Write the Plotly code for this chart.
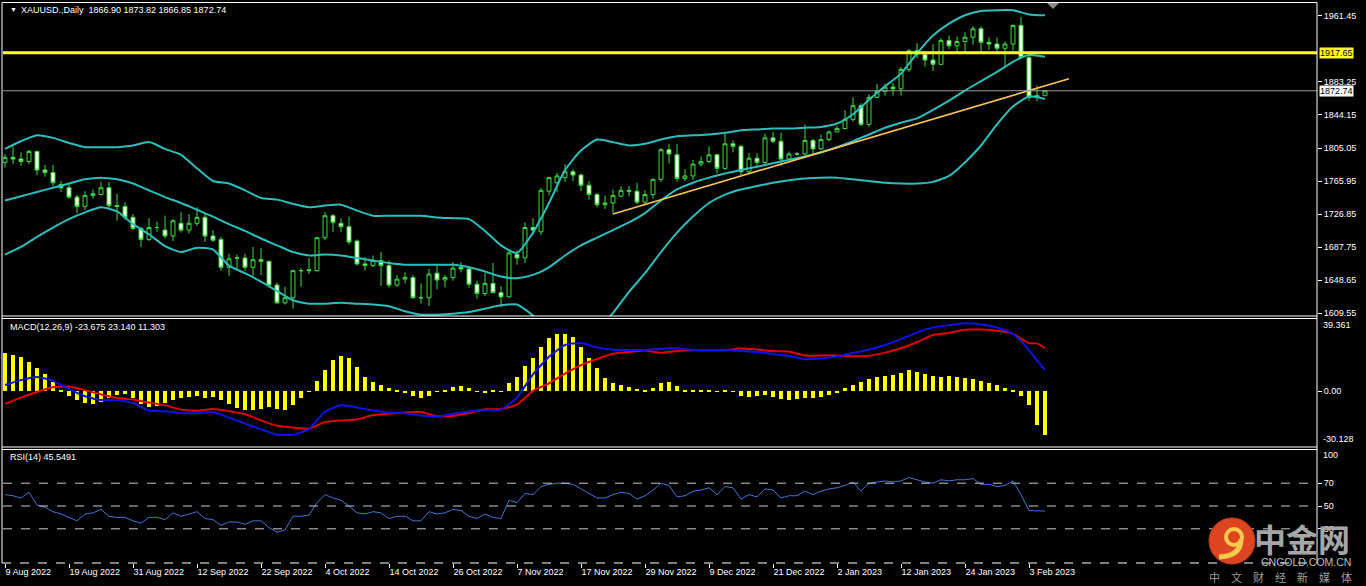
import plotly.graph_objects as go

W, H = 1366, 586
PL, PR, PT, PB = 3, 1317, 3, 563


def px(x):
    return (x - PL) / (PR - PL)


def py(y):
    return (PB - y) / (PB - PT)


# ---------------- data ----------------
tick_labels = ["9 Aug 2022", "19 Aug 2022", "31 Aug 2022", "12 Sep 2022", "22 Sep 2022",
               "4 Oct 2022", "14 Oct 2022", "26 Oct 2022", "7 Nov 2022", "17 Nov 2022",
               "29 Nov 2022", "9 Dec 2022", "21 Dec 2022", "2 Jan 2023", "12 Jan 2023",
               "24 Jan 2023", "3 Feb 2023"]
tick_bars = [0, 8, 16, 24, 32, 40, 48, 56, 64, 72, 80, 88, 96, 104, 112, 120, 128]

opens = [1788, 1794, 1792, 1789, 1801, 1779, 1776, 1762, 1758, 1747,
         1736, 1749, 1750, 1758, 1737, 1736, 1723, 1710, 1697, 1711,
         1708, 1701, 1716, 1708, 1716, 1723, 1701, 1697, 1664, 1675,
         1675, 1664, 1673, 1671, 1643, 1622, 1628, 1660, 1661, 1660,
         1699, 1725, 1716, 1712, 1695, 1668, 1666, 1672, 1666, 1643,
         1650, 1652, 1628, 1628, 1657, 1649, 1652, 1664, 1662, 1644,
         1633, 1645, 1634, 1629, 1679, 1675, 1711, 1706, 1754, 1764,
         1770, 1777, 1773, 1761, 1750, 1738, 1740, 1748, 1755, 1754,
         1741, 1750, 1768, 1803, 1797, 1769, 1772, 1786, 1789, 1797,
         1781, 1810, 1807, 1777, 1793, 1788, 1817, 1813, 1792, 1798,
         1798, 1814, 1804, 1815, 1824, 1828, 1839, 1855, 1833, 1865,
         1872, 1877, 1875, 1898, 1920, 1916, 1909, 1904, 1932, 1926,
         1931, 1936, 1946, 1930, 1928, 1923, 1928, 1950, 1912, 1865,
         1866.90]
highs = [1798, 1807, 1800, 1803, 1802, 1785, 1785, 1766, 1762, 1750,
         1754, 1756, 1765, 1765, 1751, 1741, 1727, 1712, 1722, 1718,
         1725, 1721, 1729, 1727, 1735, 1728, 1708, 1700, 1680, 1679,
         1680, 1688, 1687, 1672, 1646, 1641, 1661, 1663, 1675, 1700,
         1729, 1727, 1722, 1724, 1697, 1676, 1678, 1682, 1672, 1655,
         1658, 1655, 1645, 1662, 1668, 1655, 1670, 1670, 1665, 1648,
         1657, 1669, 1642, 1683, 1684, 1717, 1722, 1758, 1770, 1776,
         1786, 1780, 1775, 1766, 1752, 1749, 1756, 1760, 1760, 1764,
         1755, 1769, 1805, 1810, 1810, 1780, 1791, 1795, 1807, 1798,
         1824, 1814, 1809, 1799, 1799, 1822, 1824, 1823, 1801, 1800,
         1833, 1816, 1821, 1826, 1831, 1850, 1865, 1858, 1869, 1881,
         1881, 1882, 1901, 1922, 1929, 1920, 1928, 1935, 1938, 1937,
         1942, 1949, 1949, 1936, 1936, 1931, 1951, 1960, 1918, 1879,
         1873.82]
lows = [1782, 1786, 1784, 1786, 1773, 1771, 1760, 1753, 1745, 1728,
        1732, 1745, 1749, 1734, 1719, 1720, 1708, 1688, 1695, 1706,
        1698, 1695, 1705, 1704, 1713, 1694, 1694, 1660, 1654, 1662,
        1660, 1654, 1655, 1640, 1621, 1620, 1615, 1641, 1656, 1659,
        1696, 1706, 1706, 1691, 1666, 1660, 1664, 1642, 1640, 1641,
        1645, 1627, 1621, 1618, 1638, 1640, 1648, 1658, 1640, 1627,
        1630, 1634, 1617, 1628, 1667, 1669, 1702, 1702, 1749, 1753,
        1765, 1766, 1754, 1744, 1735, 1733, 1727, 1747, 1748, 1739,
        1737, 1745, 1765, 1787, 1765, 1766, 1767, 1783, 1787, 1775,
        1779, 1800, 1773, 1775, 1784, 1785, 1811, 1784, 1791, 1796,
        1796, 1797, 1803, 1813, 1824, 1827, 1836, 1831, 1830, 1864,
        1867, 1867, 1867, 1895, 1911, 1901, 1896, 1903, 1922, 1917,
        1917, 1927, 1918, 1921, 1916, 1900, 1920, 1911, 1861, 1860,
        1866.85]
closes = [1794, 1792, 1789, 1801, 1779, 1776, 1764, 1758, 1747, 1736,
          1749, 1751, 1758, 1737, 1736, 1723, 1710, 1697, 1711, 1711,
          1701, 1719, 1708, 1716, 1723, 1701, 1696, 1664, 1674, 1675,
          1664, 1673, 1671, 1643, 1622, 1628, 1660, 1660, 1660, 1699,
          1725, 1717, 1712, 1694, 1668, 1666, 1672, 1666, 1643, 1650,
          1652, 1628, 1628, 1656, 1649, 1652, 1663, 1662, 1644, 1633,
          1645, 1634, 1629, 1681, 1675, 1711, 1708, 1755, 1770, 1772,
          1777, 1773, 1761, 1750, 1738, 1740, 1749, 1755, 1754, 1741,
          1750, 1768, 1803, 1798, 1769, 1772, 1786, 1789, 1797, 1781,
          1810, 1807, 1777, 1793, 1788, 1817, 1813, 1792, 1798, 1798,
          1814, 1804, 1815, 1824, 1828, 1839, 1855, 1833, 1865, 1872,
          1877, 1875, 1898, 1920, 1916, 1909, 1904, 1932, 1926, 1931,
          1936, 1946, 1930, 1928, 1923, 1928, 1950, 1912, 1865, 1867,
          1872.74]

# Bollinger bands read at every second bar
band_bars = list(range(0, 131, 2))
bb_upper = [1804, 1813, 1820, 1817, 1811, 1806, 1806, 1806, 1808, 1812,
            1804, 1797, 1781, 1766, 1763, 1755, 1746, 1744, 1739, 1735,
            1737, 1738, 1731, 1725, 1725, 1725, 1725, 1723, 1722, 1721,
            1707, 1690, 1681, 1705, 1740, 1779, 1802, 1815, 1812, 1808,
            1810, 1815, 1819, 1820, 1821, 1823, 1826, 1827, 1828, 1828,
            1829, 1830, 1834, 1845, 1862, 1878, 1893, 1917, 1938, 1952,
            1962, 1967, 1968, 1968, 1963, 1962]
bb_middle = [1743, 1748, 1753, 1758, 1763, 1768, 1770, 1768, 1763, 1755,
             1747, 1740, 1732, 1724, 1715, 1707, 1698, 1690, 1682, 1678,
             1679, 1678, 1675, 1672, 1669, 1667, 1667, 1667, 1667, 1664,
             1659, 1653, 1651, 1655, 1664, 1678, 1690, 1699, 1708, 1717,
             1728, 1743, 1756, 1764, 1770, 1775, 1779, 1783, 1787, 1791,
             1795, 1800, 1806, 1813, 1821, 1829, 1835, 1840, 1850, 1861,
             1873, 1884, 1895, 1907, 1915, 1913]
bb_lower = [1679, 1688, 1700, 1711, 1721, 1729, 1735, 1730, 1715, 1703,
            1689, 1682, 1687, 1685, 1666, 1657, 1647, 1636, 1625, 1621,
            1621, 1622, 1621, 1620, 1618, 1612, 1608, 1608, 1609, 1611,
            1615, 1619, 1620, 1607, 1590, 1580, 1578, 1590, 1610, 1635,
            1657, 1682, 1705, 1724, 1740, 1750, 1756, 1760, 1764, 1767,
            1769, 1770, 1770, 1768, 1766, 1764, 1763, 1763, 1765, 1772,
            1788, 1808, 1833, 1854, 1866, 1863]

# MACD(12,26,9): histogram per bar, main (blue) and signal (red) lines
macd_hist = [20.5, 19.5, 18.4, 15.7, 12.4, 9.2, 4.9, 0.6, -2.6, -4.8,
             -6.5, -7.0, -5.9, -3.7, -2.1, -1.6, -3.7, -7.0, -8.6, -8.0,
             -6.5, -4.8, -3.7, -3.2, -2.6, -3.7, -3.2, -4.8, -7.0, -9.1,
             -10.2, -10.2, -9.6, -8.6, -9.6, -10.2, -7.5, -3.7, -0.5, 5.4,
             11.4, 16.8, 18.9, 17.8, 13.0, 7.6, 4.9, 3.3, 1.7, 0.1,
             -1.0, -2.6, -3.7, -2.6, -0.5, 0.6, 2.2, 2.7, 1.7, -0.5,
             -1.0, 0.1, -0.5, 4.4, 7.6, 13.5, 17.8, 23.7, 28.6, 30.8,
             30.8, 29.1, 23.7, 17.8, 12.4, 7.1, 4.4, 3.3, 2.2, 1.1,
             0.6, 1.7, 4.4, 4.9, 2.7, 0.6, 0.1, 0.6, 0.1, -0.5,
             0.1, -0.5, -2.6, -3.2, -2.6, -2.1, -3.2, -4.3, -4.8, -4.3,
             -3.7, -3.7, -3.2, -2.1, -1.0, 1.7, 3.3, 4.9, 6.5, 7.6,
             8.1, 8.7, 9.8, 11.4, 10.3, 9.2, 8.1, 7.6, 8.1, 7.6,
             7.1, 6.5, 5.4, 4.4, 3.3, 1.7, 0.1, -2.6, -7.5, -18.3,
             -23.675]
macd_bars = [0, 2, 4, 6, 8, 10, 12, 14, 16, 18, 20, 22, 24, 26, 28, 30, 32, 34, 36, 38,
             40, 42, 44, 46, 48, 50, 52, 54, 56, 58, 60, 62, 64, 66, 68, 70, 72, 74, 76, 78,
             80, 82, 84, 86, 88, 90, 92, 94, 96, 98, 100, 102, 104, 106, 108, 110, 112, 114,
             116, 118, 120, 122, 124, 126, 127, 128, 129, 130]
macd_main = [3.3, 5.9, 7.6, 5.5, 1.0, -2.8, -4.8, -4.8, -6.5, -10.5,
             -10.9, -11.9, -11.9, -11.3, -14.3, -17.5, -20.6, -23.5, -23.5, -20.5,
             -11.0, -7.6, -8.8, -10.5, -11.5, -12.0, -13.2, -13.8, -12.2, -11.0,
             -10.3, -10.0, -3.5, 9.0, 18.5, 24.8, 25.9, 23.5, 22.3, 22.1,
             22.1, 22.8, 23.0, 22.1, 22.1, 22.1, 21.6, 21.1, 19.9, 18.9,
             17.2, 17.6, 18.6, 20.5, 22.3, 24.8, 28.0, 31.5, 34.3, 35.5,
             36.5, 35.8, 34.2, 30.8, 27.0, 22.0, 16.5, 11.303]
macd_signal = [-6.9, -3.5, -0.5, 2.0, 2.3, 0.5, -1.8, -3.7, -4.6, -6.2,
               -7.7, -10.0, -10.6, -9.7, -10.8, -12.4, -15.8, -18.7, -19.7, -20.3,
               -16.7, -15.8, -15.3, -12.9, -12.3, -11.5, -11.3, -13.5, -13.3, -11.8,
               -9.8, -9.8, -7.3, 0.1, 4.2, 9.4, 14.0, 17.3, 20.1, 21.0,
               21.8, 20.6, 21.6, 22.0, 22.0, 22.0, 22.9, 22.4, 21.5, 21.3,
               19.1, 19.2, 19.1, 18.8, 19.0, 20.7, 23.1, 26.3, 30.2, 31.4,
               33.0, 33.1, 32.5, 30.8, 28.3, 25.8, 25.7, 23.140]

# RSI(14) per bar
rsi = [60, 59, 57, 62, 51, 49, 45, 43, 40, 37,
       43, 44, 47, 41, 40, 40, 37, 35, 40, 40,
       38, 44, 41, 43, 45, 39, 38, 33, 36, 36,
       34, 37, 37, 31, 27, 29, 41, 41, 42, 53,
       60, 57, 55, 50, 44, 43, 45, 44, 39, 41,
       41, 37, 37, 45, 43, 44, 47, 46, 41, 39,
       43, 40, 39, 55, 53, 61, 60, 67, 69, 70,
       70, 69, 65, 61, 57, 57, 60, 62, 61, 56,
       59, 64, 70, 68, 58, 59, 63, 64, 66, 60,
       67, 66, 56, 60, 58, 65, 64, 57, 59, 59,
       63, 60, 63, 65, 66, 68, 71, 63, 70, 71,
       72, 71, 72, 75, 73, 71, 70, 73, 72, 73,
       73, 74, 69, 69, 67, 68, 72, 60, 46, 46,
       45.5491]

level_price = 1917.65
last_price = 1872.74
trend_bars = [76, 133]
trend_prices = [1727, 1887]

price_ticks = [1961.45, 1883.25, 1844.15, 1805.05, 1765.95, 1726.85, 1687.75, 1648.65, 1609.55]
rsi_levels = [70, 50, 30]

# ---------------- figure ----------------
bars = list(range(len(closes)))
FONT = "Liberation Sans, Arial, sans-serif"
WHITE = "#FFFFFF"
BAND = "#2DBDBD"

fig = go.Figure()

for vals in (bb_upper, bb_middle, bb_lower):
    fig.add_trace(go.Scatter(x=band_bars, y=vals, mode="lines", xaxis="x", yaxis="y",
                             line=dict(color=BAND, width=2, shape="spline", smoothing=0.6),
                             hoverinfo="skip", showlegend=False))

fig.add_trace(go.Scatter(x=trend_bars, y=trend_prices, mode="lines", xaxis="x", yaxis="y",
                         line=dict(color="#F5C451", width=1.6), showlegend=False))

fig.add_trace(go.Candlestick(x=bars, open=opens, high=highs, low=lows, close=closes,
                             xaxis="x", yaxis="y", whiskerwidth=0,
                             increasing=dict(line=dict(color="#3EDC3E", width=1), fillcolor="#000000"),
                             decreasing=dict(line=dict(color="#3EDC3E", width=1), fillcolor="#F0FFE8"),
                             showlegend=False))

fig.add_trace(go.Bar(x=bars, y=macd_hist, xaxis="x2", yaxis="y2", width=0.62,
                     marker=dict(color="#FFFF00", line=dict(width=0)), showlegend=False))
fig.add_trace(go.Scatter(x=macd_bars, y=macd_signal, mode="lines", xaxis="x2", yaxis="y2",
                         line=dict(color="#E00000", width=2, shape="spline", smoothing=0.5),
                         showlegend=False))
fig.add_trace(go.Scatter(x=macd_bars, y=macd_main, mode="lines", xaxis="x2", yaxis="y2",
                         line=dict(color="#0A14E6", width=2, shape="spline", smoothing=0.5),
                         showlegend=False))

fig.add_trace(go.Scatter(x=bars, y=rsi, mode="lines", xaxis="x3", yaxis="y3",
                         line=dict(color="#3F74D6", width=1), showlegend=False))

XR = [-0.25, 164]
common_x = dict(range=XR, showgrid=False, zeroline=False, showline=False, fixedrange=True)
fig.update_layout(
    width=W, height=H,
    margin=dict(l=PL, r=W - PR, t=PT, b=H - PB),
    paper_bgcolor="#000000", plot_bgcolor="#000000",
    font=dict(family=FONT, size=9, color=WHITE),
    showlegend=False, bargap=0,
    xaxis=dict(common_x, domain=[0, 1], anchor="y", showticklabels=False, ticks="",
               rangeslider=dict(visible=False)),
    xaxis2=dict(common_x, domain=[0, 1], anchor="y2", showticklabels=False, ticks=""),
    xaxis3=dict(common_x, domain=[0, 1], anchor="y3", tickmode="array",
                tickvals=tick_bars, ticktext=tick_labels, ticks="outside", ticklen=4,
                tickcolor=WHITE, tickfont=dict(color=WHITE, size=9, family=FONT),
                ticklabelposition="outside right"),
    yaxis=dict(domain=[py(316), py(3)], range=[1606.4, 1976.5], side="right", anchor="x",
               showgrid=False, zeroline=False, tickmode="array", tickvals=price_ticks,
               ticktext=["%.2f" % v for v in price_ticks], ticks="outside", ticklen=4,
               tickcolor=WHITE, tickfont=dict(color=WHITE, size=9, family=FONT), fixedrange=True),
    yaxis2=dict(domain=[py(447), py(318)], range=[-30.128, 39.361], side="right", anchor="x2",
                showgrid=False, zeroline=False, tickmode="array", tickvals=[0], ticktext=["0.00"],
                ticks="outside", ticklen=4, tickcolor=WHITE,
                tickfont=dict(color=WHITE, size=9, family=FONT), fixedrange=True),
    yaxis3=dict(domain=[py(563), py(449)], range=[0, 100], side="right", anchor="x3",
                showgrid=False, zeroline=False, tickmode="array", tickvals=rsi_levels,
                ticktext=[str(v) for v in rsi_levels], ticks="outside", ticklen=4, tickcolor=WHITE,
                tickfont=dict(color=WHITE, size=9, family=FONT), fixedrange=True),
)

shapes = []
# horizontal price lines
shapes.append(dict(type="line", xref="x domain", yref="y", x0=0, x1=1, y0=level_price, y1=level_price,
                   line=dict(color="#FFFF1E", width=3)))
shapes.append(dict(type="line", xref="x domain", yref="y", x0=0, x1=1, y0=last_price, y1=last_price,
                   line=dict(color="#9A9A9A", width=1)))
for lv in rsi_levels:
    shapes.append(dict(type="line", xref="x3 domain", yref="y3", x0=0, x1=1, y0=lv, y1=lv,
                       line=dict(color="#C8C8C8", width=1, dash="dash")))


# window frames
def hline(y, dash=None):
    d = dict(type="line", xref="paper", yref="paper", x0=px(2), x1=px(1317), y0=py(y), y1=py(y),
             line=dict(color=WHITE, width=1))
    if dash:
        d["line"]["dash"] = dash
    return d


def vline(x, y0, y1):
    return dict(type="line", xref="paper", yref="paper", x0=px(x), x1=px(x), y0=py(y0), y1=py(y1),
                line=dict(color=WHITE, width=1))


for y in (2.5, 316, 318.5, 447, 449.5):
    shapes.append(hline(y))
shapes.append(hline(563, dash="dash"))
shapes.append(vline(2, 2.5, 563))
shapes.append(vline(1317, 2.5, 563))

# chart shift marker
shapes.append(dict(type="path", xref="paper", yref="paper",
                   path="M %f,%f L %f,%f L %f,%f Z" % (px(1047), py(3), px(1059), py(3), px(1053), py(9)),
                   fillcolor="#8C8C8C", line=dict(width=0)))

# watermark logo
shapes.append(dict(type="circle", xref="paper", yref="paper", x0=px(1209), x1=px(1255),
                   y0=py(564), y1=py(518), fillcolor="#DD4420", line=dict(color="#C83A18", width=1)))
shapes.append(dict(type="circle", xref="paper", yref="paper", x0=px(1226), x1=px(1242),
                   y0=py(545), y1=py(529), fillcolor="rgba(0,0,0,0)", line=dict(color="#F7C94C", width=4)))
shapes.append(dict(type="path", xref="paper", yref="paper",
                   path="M %f,%f Q %f,%f %f,%f" % (px(1241), py(539), px(1241), py(556), px(1219), py(557)),
                   line=dict(color="#F7C94C", width=5)))
fig.update_layout(shapes=shapes)

ann = []


def text(x, y, s, size=9, color=WHITE, xanchor="left", bg=None, family=FONT, **kw):
    d = dict(xref="paper", yref="paper", x=px(x), y=py(y), text=s, showarrow=False,
             xanchor=xanchor, yanchor="middle", font=dict(size=size, color=color, family=family))
    if bg:
        d.update(bgcolor=bg, borderpad=0)
    d.update(kw)
    return d


ann.append(text(8, 10, "▼", size=7))
ann.append(text(19, 10, "XAUUSD.,Daily  1866.90 1873.82 1866.85 1872.74"))
ann.append(text(8, 327, "MACD(12,26,9) -23.675 23.140 11.303"))
ann.append(text(8, 457, "RSI(14) 45.5491"))
ann.append(text(1319, 52.5, "%.2f" % level_price, color="#000000", bg="#FFFF1E"))
ann.append(text(1319, 90.7, "%.2f" % last_price, color="#000000", bg="#FFFFFF"))
ann.append(text(1321, 325, "39.361"))
ann.append(text(1321, 439, "-30.128"))
ann.append(text(1321, 455, "100"))
CJK = "Noto Sans CJK SC"
ann.append(text(1302, 538, "<b>中金网</b>", size=32, color="#A6A6A6", xanchor="center", family=CJK))
ann.append(text(1306, 562, "CNGOLD.COM.CN", size=10.5, color="#BDBDBD", xanchor="center"))
ann.append(text(1280, 577, "中　文　财　经　新　媒　体", size=11, color="#9E9E9E", xanchor="center", family=CJK))
fig.update_layout(annotations=ann)

fig.write_html("out.html", config={"displayModeBar": False},
               post_script="document.body.style.margin='0';"
                           "document.body.style.padding='0';"
                           "document.body.style.overflow='hidden';")
